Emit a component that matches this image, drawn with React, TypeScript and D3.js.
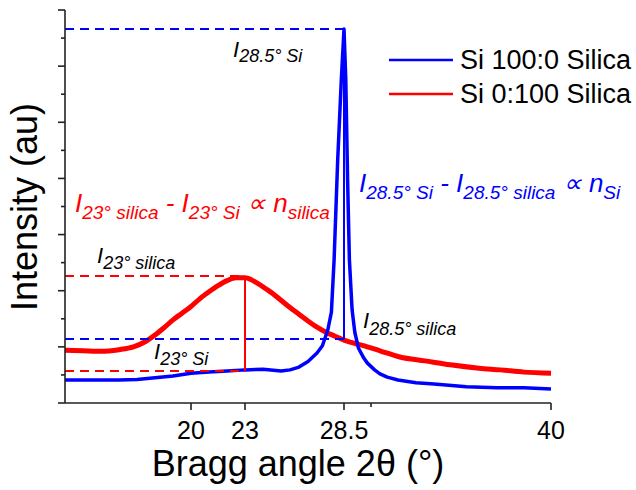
import React from "react";
import * as d3 from "d3";

// Si 100:0 Silica (blue)
const siAngle = [13, 14, 15, 16, 17, 18, 19, 20, 21, 22, 23, 24, 25, 25.5, 26, 26.5, 27, 27.3, 27.6, 27.8, 27.95, 28.15, 28.35, 28.5, 28.6, 28.7, 28.8, 28.95, 29.1, 29.3, 29.6, 29.8, 30.2, 30.5, 30.9, 31.5, 32.5, 33.5, 35.3, 37, 38.5, 40];
const siValue = [0.41, 0.41, 0.41, 0.41, 0.42, 0.45, 0.48, 0.53, 0.55, 0.57, 0.59, 0.6, 0.57, 0.59, 0.64, 0.74, 0.89, 1.02, 1.3, 1.62, 2.55, 4.33, 5.75, 6.66, 5.75, 3.97, 2.55, 1.66, 1.26, 0.98, 0.8, 0.71, 0.59, 0.52, 0.46, 0.41, 0.36, 0.34, 0.29, 0.27, 0.27, 0.25];

// Si 0:100 Silica (red)
const silicaAngle = [13, 14, 15, 16, 16.8, 17.5, 18, 18.5, 19, 19.5, 20, 20.5, 21, 21.5, 22, 22.5, 23, 23.5, 24, 24.5, 25, 25.5, 26, 26.5, 27, 27.5, 28, 28.5, 29, 29.8, 30.5, 31.6, 33, 34.4, 36, 37.2, 38.5, 40];
const silicaValue = [0.94, 0.93, 0.92, 0.95, 1.0, 1.1, 1.21, 1.34, 1.48, 1.6, 1.72, 1.86, 1.98, 2.09, 2.18, 2.23, 2.23, 2.17, 2.07, 1.96, 1.83, 1.7, 1.58, 1.46, 1.35, 1.26, 1.19, 1.12, 1.07, 1.0, 0.93, 0.82, 0.75, 0.68, 0.62, 0.59, 0.55, 0.53];

const xMajorTicks = [20, 23, 28.5, 40];
const xMinorTicks = [30];
const yMajorTicks = [0, 1, 2, 3, 4, 5, 6, 7];
const yMinorTicks = [0.5, 1.5, 2.5, 3.5, 4.5, 5.5, 6.5];

// reference levels
const peakSi = 6.66;
const peakSilicaAt285 = 1.14;
const silicaAt23 = 2.26;
const siAt23 = 0.57;

const FONT = "'Liberation Sans', Arial, sans-serif";
const BLUE = "#0000ff";
const RED = "#ff0000";

type Part = { t: string; sub?: boolean };

function Formula({ x, y, parts, size, subSize, shift, color }: { x: number; y: number; parts: Part[]; size: number; subSize: number; shift: number; color: string }) {
  let inSub = false;
  return (
    <text x={x} y={y} fontFamily={FONT} fontStyle="italic" fill={color} fontSize={size}>
      {parts.map((p, i) => {
        let dy = 0;
        if (p.sub && !inSub) dy = shift;
        if (!p.sub && inSub) dy = -shift;
        inSub = !!p.sub;
        return (
          <tspan key={i} dy={dy} fontSize={p.sub ? subSize : size}>
            {p.t}
          </tspan>
        );
      })}
    </text>
  );
}

export default function App() {
  const x = d3.scaleLinear().domain([13, 40]).range([65, 551]);
  const y = d3.scaleLinear().domain([0, 7]).range([403, 10]);

  const siPath =
    d3
      .line<number>()
      .x((_, i) => x(siAngle[i]))
      .y((_, i) => y(siValue[i]))
      .curve(d3.curveLinear)(siAngle) || "";
  const silicaPath =
    d3
      .line<number>()
      .x((_, i) => x(silicaAngle[i]))
      .y((_, i) => y(silicaValue[i]))
      .curve(d3.curveMonotoneX)(silicaAngle) || "";

  const dash = "9 6";

  return (
    <svg width={636} height={490} style={{ position: "absolute", left: 0, top: 0, background: "#fff" }}>
      {/* curves */}
      <path d={silicaPath} fill="none" stroke={RED} strokeWidth={5} strokeLinejoin="round" />
      <path d={siPath} fill="none" stroke={BLUE} strokeWidth={3.5} strokeLinejoin="round" />

      {/* guide lines */}
      <line x1={x(13)} x2={x(28.5)} y1={y(peakSi)} y2={y(peakSi)} stroke={BLUE} strokeWidth={2} strokeDasharray={dash} />
      <line x1={x(13)} x2={x(28.5)} y1={y(peakSilicaAt285)} y2={y(peakSilicaAt285)} stroke={BLUE} strokeWidth={2} strokeDasharray={dash} />
      <line x1={x(28.5)} x2={x(28.5)} y1={y(peakSi)} y2={y(peakSilicaAt285)} stroke={BLUE} strokeWidth={2} />
      <line x1={x(13)} x2={x(23)} y1={y(silicaAt23)} y2={y(silicaAt23)} stroke={RED} strokeWidth={2} strokeDasharray={dash} />
      <line x1={x(13)} x2={x(23)} y1={y(siAt23)} y2={y(siAt23)} stroke={RED} strokeWidth={2} strokeDasharray={dash} />
      <line x1={x(23)} x2={x(23)} y1={y(silicaAt23)} y2={y(siAt23)} stroke={RED} strokeWidth={2} />

      {/* axes */}
      <g stroke="#222" strokeWidth={1.6}>
        <line x1={65} x2={65} y1={y(7)} y2={y(0)} />
        <line x1={65} x2={551} y1={y(0)} y2={y(0)} />
        {yMajorTicks.map((t) => (
          <line key={"ym" + t} x1={58} x2={65} y1={y(t)} y2={y(t)} />
        ))}
        {yMinorTicks.map((t) => (
          <line key={"yn" + t} x1={61} x2={65} y1={y(t)} y2={y(t)} />
        ))}
        {xMajorTicks.map((t) => (
          <line key={"xm" + t} x1={x(t)} x2={x(t)} y1={y(0)} y2={y(0) + 7} />
        ))}
        {xMinorTicks.map((t) => (
          <line key={"xn" + t} x1={x(t)} x2={x(t)} y1={y(0)} y2={y(0) + 4} />
        ))}
      </g>
      {xMajorTicks.map((t) => (
        <text key={"xl" + t} x={x(t)} y={439} textAnchor="middle" fontFamily={FONT} fontSize={25} fill="#000">
          {t}
        </text>
      ))}
      <text x={298} y={476} textAnchor="middle" fontFamily={FONT} fontSize={36} fill="#000">
        Bragg angle 2θ (°)
      </text>
      <text transform="translate(37,207) rotate(-90)" textAnchor="middle" fontFamily={FONT} fontSize={36} fill="#000">
        Intensity (au)
      </text>

      {/* legend */}
      <line x1={389} x2={453} y1={60} y2={60} stroke={BLUE} strokeWidth={2.5} />
      <text x={460} y={69} fontFamily={FONT} fontSize={27} fill="#000">Si 100:0 Silica</text>
      <line x1={389} x2={453} y1={94} y2={94} stroke={RED} strokeWidth={2.5} />
      <text x={460} y={103} fontFamily={FONT} fontSize={27} fill="#000">Si 0:100 Silica</text>

      {/* annotations */}
      <Formula x={233} y={57} size={22} subSize={18} shift={5} color="#000" parts={[{ t: "I" }, { t: "28.5° Si", sub: true }]} />
      <Formula x={97} y={263} size={22} subSize={18} shift={6} color="#000" parts={[{ t: "I" }, { t: "23° silica", sub: true }]} />
      <Formula x={154} y={359} size={22} subSize={18} shift={6} color="#000" parts={[{ t: "I" }, { t: "23° Si", sub: true }]} />
      <Formula x={363} y={328} size={22} subSize={18} shift={7} color="#000" parts={[{ t: "I" }, { t: "28.5° silica", sub: true }]} />
      <Formula
        x={75}
        y={212}
        size={26}
        subSize={19}
        shift={7}
        color={RED}
        parts={[{ t: "I" }, { t: "23° silica", sub: true }, { t: " - I" }, { t: "23° Si", sub: true }, { t: " ∝ n" }, { t: "silica", sub: true }]}
      />
      <Formula
        x={359}
        y={192}
        size={26}
        subSize={19}
        shift={7}
        color={BLUE}
        parts={[{ t: "I" }, { t: "28.5° Si", sub: true }, { t: " - I" }, { t: "28.5° silica", sub: true }, { t: " ∝ n" }, { t: "Si", sub: true }]}
      />
    </svg>
  );
}
